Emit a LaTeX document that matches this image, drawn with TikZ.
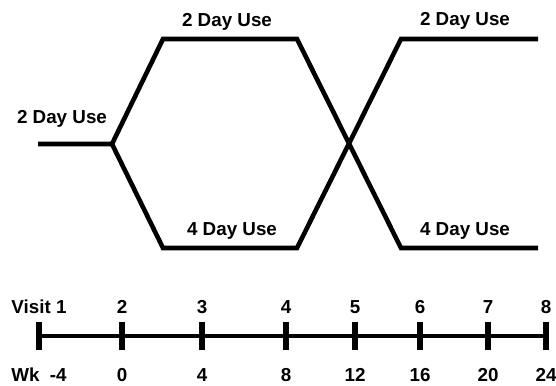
\documentclass[tikz,border=0pt]{standalone}
\usepackage{fontspec}
\setmainfont{Liberation Sans}
\usetikzlibrary{positioning}
\tikzset{
  font=\bfseries\fontsize{9.4}{11}\selectfont,
  arm/.style={
    line width=2.3pt,
    line join=miter
  },
  axis/.style={
    line width=2.4pt
  },
  tickmark/.style={
    line width=2.6pt
  },
  dose/.style={
    anchor=base,
    inner sep=0pt
  },
  scale label/.style={
    anchor=base,
    inner sep=0pt
  }
}
\begin{document}
\begin{tikzpicture}[x=0.5pt,y=-0.5pt]
\useasboundingbox (0,0) rectangle (556,385);
% corners of the two arms
\coordinate (start) at (38,144);
\coordinate (split) at (112,144);
\coordinate (hiA)   at (163,39);
\coordinate (hiB)   at (297,39);
\coordinate (loA)   at (163,248);
\coordinate (loB)   at (297,248);
\coordinate (hiC)   at (401,39);
\coordinate (loC)   at (401,248);
\coordinate (hiEnd) at (538,39);
\coordinate (loEnd) at (538,248);
\draw[arm] (start) -- (split) -- (hiA) -- (hiB) -- (loC) -- (loEnd);
\draw[arm] (split) -- (loA) -- (loB) -- (hiC) -- (hiEnd);
\node[dose] (lead)  at (62,123)  {2 Day Use};
\node[dose] (hi1)   at (227,27)  {2 Day Use};
\node[dose] (lo1)   at (232,235) {4 Day Use};
\node[dose] (hi2)   at (465,26)  {2 Day Use};
\node[dose] (lo2)   at (465,235) {4 Day Use};
% visit scale
\foreach \n/\x/\v/\w in {1/39/Visit 1/Wk\hspace{0.55em}-4, 2/122/2/0, 3/202/3/4,
    4/286/4/8, 5/355/5/12, 6/420/6/16, 7/488/7/20, 8/546/8/24} {
  \coordinate (t\n) at (\x,336);
  \draw[tickmark] (t\n) ++(0,-14) -- ++(0,28);
  \node[scale label] (v\n) at (\x,313) {\v};
  \node[scale label] (w\n) at (\x,381) {\w};
}
\draw[axis] (t1) -- (t8);
\end{tikzpicture}
\end{document}
